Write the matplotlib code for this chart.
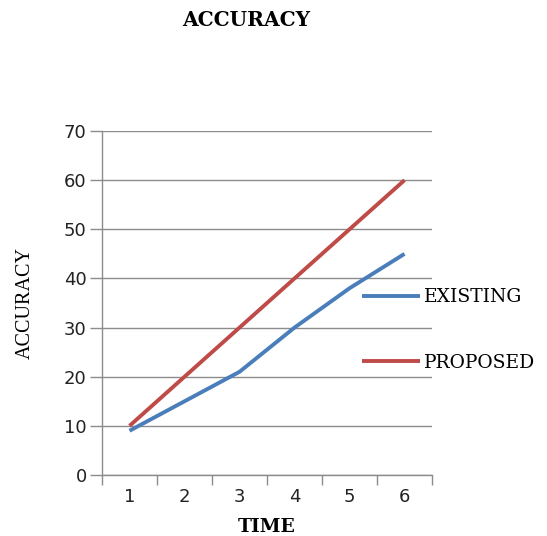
import matplotlib
matplotlib.use("Agg")
import matplotlib.pyplot as plt
from matplotlib.ticker import FixedLocator, NullFormatter

time_labels = ["1", "2", "3", "4", "5", "6"]
existing = [9, 15, 21, 30, 38, 45]
proposed = [10, 20, 30, 40, 50, 60]
y_ticks = [0, 10, 20, 30, 40, 50, 60, 70]

blue = "#4a7ebb"
red = "#be4b48"
grid_c = "#8c8c8c"
serif = ["Liberation Serif", "DejaVu Serif"]
wide_serif = ["DejaVu Serif"]

fig = plt.figure(figsize=(5.47, 5.36), dpi=100)
ax = fig.add_axes([0.1865, 0.1138, 0.6033, 0.6418])

x = list(range(len(time_labels)))
ax.plot(x, existing, color=blue, lw=2.8, label="EXISTING", solid_capstyle="butt")
ax.plot(x, proposed, color=red, lw=2.8, label="PROPOSED", solid_capstyle="butt")

ax.set_xlim(-0.5, len(time_labels) - 0.5)
ax.set_ylim(0, 70)
ax.set_yticks(y_ticks)
ax.set_yticklabels([str(v) for v in y_ticks], fontsize=13, color="#222222")
ax.yaxis.grid(True, color=grid_c, lw=1)
ax.set_axisbelow(True)

# category ticks sit on the boundaries, labels at the centers
ax.xaxis.set_major_locator(FixedLocator([i - 0.5 for i in range(len(time_labels) + 1)]))
ax.xaxis.set_major_formatter(NullFormatter())
ax.xaxis.set_minor_locator(FixedLocator(x))
ax.set_xticklabels(time_labels, minor=True, fontsize=13, color="#222222")
ax.tick_params(axis="x", which="minor", length=0, pad=9)
ax.tick_params(axis="x", which="major", length=7, color=grid_c, width=1)
ax.tick_params(axis="y", length=9, color=grid_c, width=1, pad=2)

for side in ["top", "right"]:
    ax.spines[side].set_visible(False)
for side in ["left", "bottom"]:
    ax.spines[side].set_color(grid_c)
    ax.spines[side].set_linewidth(1)

ax.set_ylabel("ACCURACY", family=serif, fontsize=14.5, labelpad=21)
fig.text(0.487, 0.0, "TIME", family=wide_serif, fontweight="bold",
         fontsize=13.5, ha="center", va="bottom")

fig.text(0.45, 0.962, "ACCURACY", family=wide_serif, fontweight="bold",
         fontsize=14.5, ha="center", va="center")

leg = fig.legend(loc="center left", bbox_to_anchor=(0.644, 0.384),
                 frameon=False, prop={"family": wide_serif, "size": 13.5},
                 handlelength=3.09, handletextpad=0.21, labelspacing=2.54,
                 borderpad=0)

fig.savefig("out.png", dpi=100)
